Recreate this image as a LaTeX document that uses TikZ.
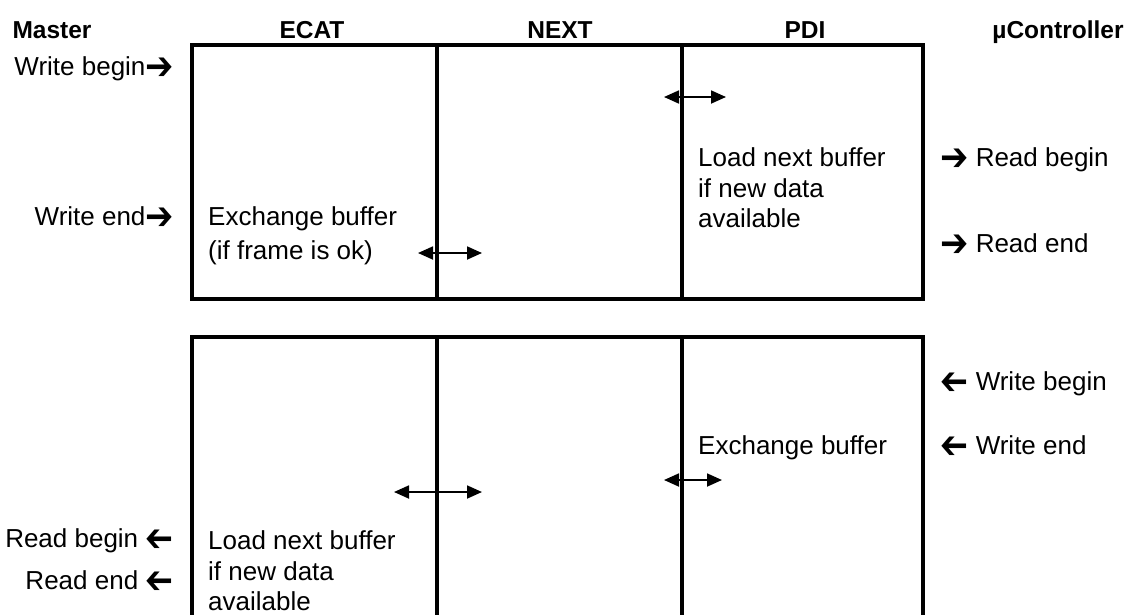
\documentclass[tikz,border=0pt]{standalone}
\usepackage{fontspec}
\usepackage{graphicx}
\setmainfont{Liberation Sans}
\newfontfamily\symfont{DejaVu Sans}
\usetikzlibrary{arrows.meta}
\newcommand\rarr{\raisebox{-4pt}{\scalebox{1.3}[1.5]{\symfont\bfseries ➔}}}
\newcommand\larr{\raisebox{-4pt}{\scalebox{-1.3}[1.5]{\symfont\bfseries ➔}}}
\begin{document}
\begin{tikzpicture}[x=1pt,y=-1pt,
  frame/.style={line width=4pt},
  dbl/.style={line width=1.8pt,{Triangle[length=15pt,width=13pt]}-{Triangle[length=15pt,width=13pt]}},
  head/.style={font=\fontsize{24.5}{30}\selectfont\bfseries, anchor=base, inner sep=0pt},
  txt/.style={font=\fontsize{26}{31}\selectfont, inner sep=0pt, anchor=base west},
  txtr/.style={font=\fontsize{26}{31}\selectfont, inner sep=0pt, anchor=base east},
]
\useasboundingbox (0,0) rectangle (1131,614);
% headers
\node[head] (hm) at (52,38) {Master};
\node[head] (he) at (312,38) {ECAT};
\node[head] (hn) at (560,38) {NEXT};
\node[head] (hp) at (805,38) {PDI};
\node[head] (hu) at (1058,38) {µController};
% upper buffer
\draw[frame] (192,45) rectangle (923,299);
\draw[frame] (437,45) -- (437,299);
\draw[frame] (682,45) -- (682,299);
% lower buffer
\draw[frame] (192,620) -- (192,337) -- (923,337) -- (923,620);
\draw[frame] (437,337) -- (437,620);
\draw[frame] (682,337) -- (682,620);
% master side, upper
\node[txtr] (wb) at (174,75) {Write begin\rarr};
\node[txtr] (we) at (174,225) {Write end\rarr};
% upper contents
\node[txt] (ex1) at (208,225) {Exchange buffer};
\node[txt] (ex2) at (208,259) {(if frame is ok)};
\coordinate (a1l) at (418,253);
\coordinate (a1r) at (482,253);
\draw[dbl] (a1l) -- (a1r);
\coordinate (a2l) at (664,97);
\coordinate (a2r) at (726,97);
\draw[dbl] (a2l) -- (a2r);
\node[txt] (ln1) at (698,166) {Load next buffer};
\node[txt] (ln2) at (698,197) {if new data};
\node[txt] (ln3) at (698,227) {available};
\node[txt] (rb) at (940,166) {\rarr\ Read begin};
\node[txt] (re) at (940,252) {\rarr\ Read end};
% lower contents
\node[txt] (wb2) at (940,390) {\larr\ Write begin};
\node[txt] (we2) at (940,454) {\larr\ Write end};
\node[txt] (ex3) at (698,454) {Exchange buffer};
\coordinate (a3l) at (664,480);
\coordinate (a3r) at (722,480);
\draw[dbl] (a3l) -- (a3r);
\coordinate (a4l) at (394,492);
\coordinate (a4r) at (482,492);
\draw[dbl] (a4l) -- (a4r);
\node[txt] (ln4) at (208,549) {Load next buffer};
\node[txt] (ln5) at (208,580) {if new data};
\node[txt] (ln6) at (208,610) {available};
\node[txtr] (rb2) at (174,547) {Read begin \larr};
\node[txtr] (re2) at (174,589) {Read end \larr};
\end{tikzpicture}
\end{document}
